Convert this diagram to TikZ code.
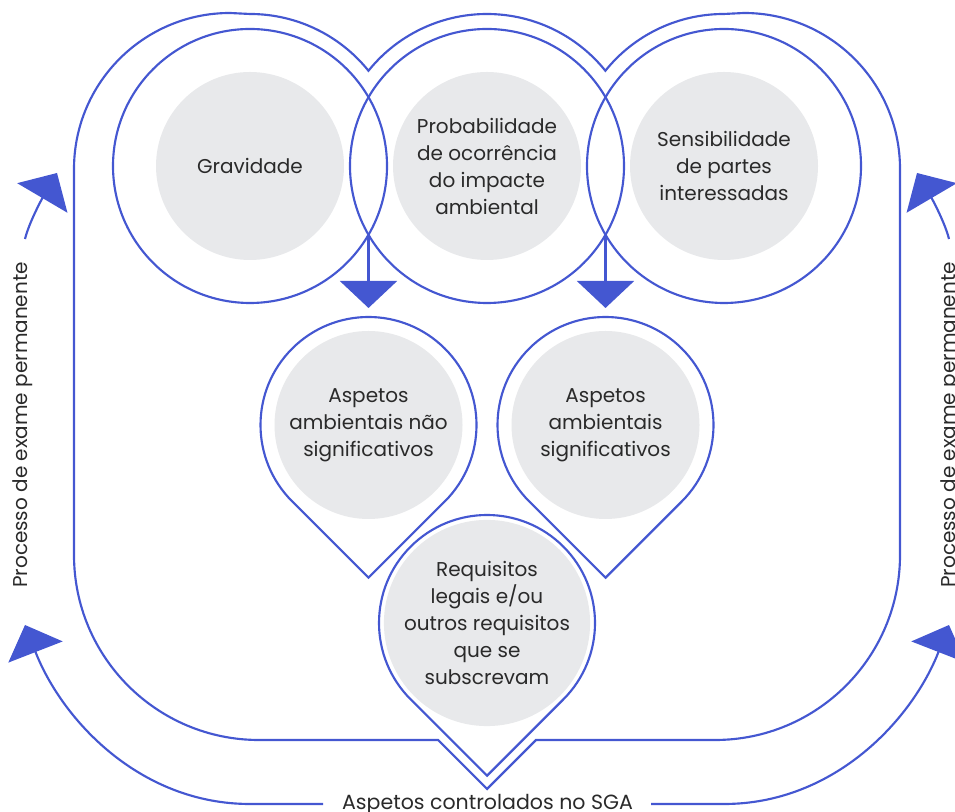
\documentclass[tikz,border=0pt]{standalone}
\usepackage{fontspec}
\setmainfont{Poppins}
\usetikzlibrary{arrows.meta}
\definecolor{lineblue}{HTML}{4457D1}
\definecolor{greyfill}{HTML}{E8E9EB}
\definecolor{txt}{HTML}{2A2A2A}
\tikzset{
  ring/.style={circle, draw=lineblue, line width=1.6pt, minimum size=205.5pt, inner sep=0pt},
  greyc/.style={circle, fill=greyfill, minimum size=141pt, inner sep=0pt, align=center, text=txt, font=\fontsize{15}{20.25}\selectfont},
  frame/.style={draw=lineblue, line width=1.6pt, line join=miter},
  pinline/.style={draw=lineblue, line width=1.6pt, fill=white, line join=miter},
  arr/.style={draw=lineblue, line width=1.6pt, -{Triangle[width=42.75pt,length=20.25pt]}},
  sidearr/.style={draw=lineblue, line width=1.6pt, -{Triangle[width=43.5pt,length=21.75pt]}},
  lbl/.style={text=txt, inner sep=0pt, font=\fontsize{15}{20.25}\selectfont},
  btlbl/.style={text=txt, inner sep=0pt, font=\fontsize{15.4}{20}\selectfont}
}
\begin{document}
\begin{tikzpicture}[x=0.75pt,y=0.75pt]
\useasboundingbox (0,0) rectangle (955,812);
% outer frame
\draw[frame] (487,23) -- (438,72) -- (259,72)
  arc[start angle=-90, end angle=-180, radius=185] -- (74,643)
  arc[start angle=180, end angle=90, radius=156] -- (250,798)
  arc[start angle=90, end angle=38.8, radius=152]
  arc[start angle=141.2, end angle=38.8, radius=152]
  arc[start angle=141.2, end angle=90, radius=152] -- (744,799)
  arc[start angle=90, end angle=0, radius=156] -- (900,257)
  arc[start angle=0, end angle=-90, radius=185] -- (536,72) -- cycle;
% top rings
\node[ring] (r1) at (250,646) {};
\node[ring] (r2) at (487,646) {};
\node[ring] (r3) at (724,646) {};
\node[greyc] (g1) at (250,646) {Gravidade};
\node[greyc] (g2) at (487,646) {Probabilidade\\de ocorrência\\do impacte\\ambiental};
\node[greyc] (g3) at (724,646) {Sensibilidade\\de partes\\interessadas};
% pins
\draw[pinline] (444.87,310.63) arc[start angle=-45, end angle=225, radius=108] -- (368.5,234.26) -- cycle;
\draw[pinline] (681.87,310.63) arc[start angle=-45, end angle=225, radius=108] -- (605.5,234.26) -- cycle;
\draw[pinline] (563.37,112.63) arc[start angle=-45, end angle=225, radius=108] -- (487,36.26) -- cycle;
\node[greyc] (p1) at (368.5,387) {Aspetos\\ambientais não\\significativos};
\node[greyc] (p2) at (605.5,387) {Aspetos\\ambientais\\significativos};
\node[greyc] (p3) at (487,189) {Requisitos\\legais e/ou\\outros requisitos\\que se\\subscrevam};
% down arrows
\coordinate (i12) at (368.5,577.2);
\coordinate (i23) at (605.5,577.2);
\coordinate (t1) at (368.5,504);
\coordinate (t2) at (605.5,504);
\draw[arr] (i12) -- (t1);
\draw[arr] (i23) -- (t2);
% side texts
\node[lbl, rotate=90] (pl) at (23,387) {Processo de exame permanente};
\node[lbl, rotate=90] (pr) at (951,387) {Processo de exame permanente};
\node[btlbl, anchor=base] (bt) at (487.5,2) {Aspetos controlados no SGA};
% side arrows
\coordinate (bl0) at (323,8);
\coordinate (bl1) at (25,187);
\coordinate (tl0) at (25,573);
\coordinate (tl1) at (57,639);
\coordinate (br0) at (651,8);
\coordinate (br1) at (949,187);
\coordinate (tr0) at (949,573);
\coordinate (tr1) at (917,639);
\draw[sidearr] (bl0) -- (250,8) .. controls (140,8) and (62,92) .. (bl1);
\draw[sidearr] (tl0) .. controls (30,593) and (47,622) .. (tl1);
\draw[sidearr] (br0) -- (724,8) .. controls (834,8) and (912,92) .. (br1);
\draw[sidearr] (tr0) .. controls (944,593) and (927,622) .. (tr1);
\end{tikzpicture}
\end{document}
